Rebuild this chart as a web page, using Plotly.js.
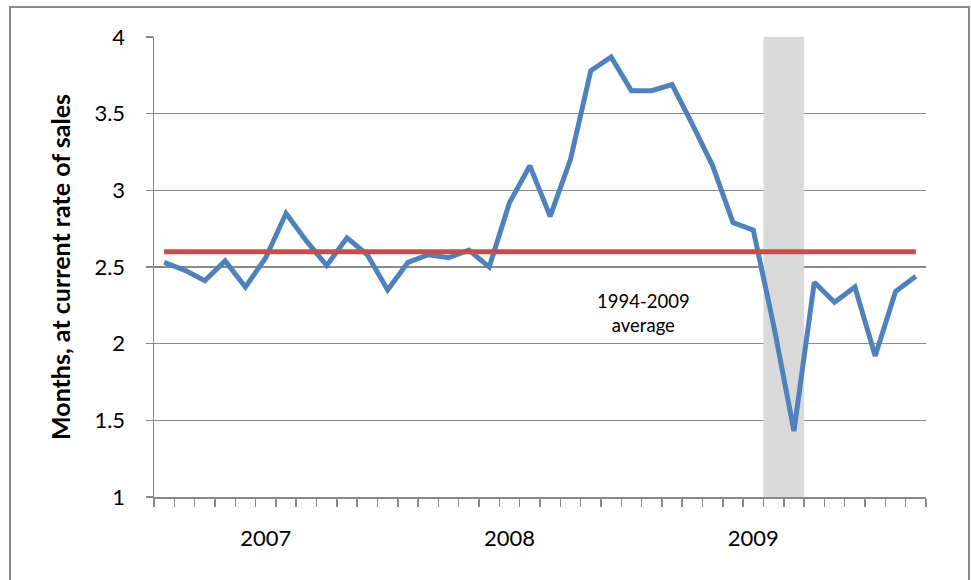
<!DOCTYPE html>
<html>
<head>
<meta charset="utf-8">
<script src="https://cdn.plot.ly/plotly-3.0.1.min.js"></script>
<style>
  html, body { margin: 0; padding: 0; background: #ffffff; }
  #chart { width: 971px; height: 580px; }
</style>
</head>
<body>
<div id="chart"></div>
<script>
// Monthly values (category index 0..37), months of supply at current rate of sales
var monthsSupply = [
  2.53, 2.48, 2.41, 2.54, 2.37, 2.56, 2.85, 2.67, 2.51, 2.69,
  2.58, 2.35, 2.53, 2.58, 2.56, 2.61, 2.50, 2.92, 3.16, 2.83,
  3.20, 3.78, 3.87, 3.65, 3.65, 3.69, 3.43, 3.16, 2.79, 2.74,
  2.12, 1.43, 2.40, 2.27, 2.37, 1.92, 2.34, 2.44
];
// 1994-2009 average level
var averageValue = 2.6;
// Year labels and the category index where each is shown
var yearLabels = ["2007", "2008", "2009"];
var yearLabelIndex = [5, 17, 29];
// Shaded categories (recession band)
var shadedIndex = [30, 31];
var averageLabel = "1994-2009<br>average";
var yTitle = "Months, at current rate of sales";

var n = monthsSupply.length;
var idx = monthsSupply.map(function (_, i) { return i; });

var grey = "#898989";
var font = "Lato, 'Open Sans', sans-serif";

var traces = [
  {
    x: idx, y: monthsSupply, type: "scatter", mode: "lines",
    line: { color: "#4F81BD", width: 5 },
    hoverinfo: "skip", showlegend: false
  },
  {
    x: [idx[0], idx[n - 1]], y: [averageValue, averageValue],
    type: "scatter", mode: "lines",
    line: { color: "#C0504D", width: 5 },
    hoverinfo: "skip", showlegend: false
  }
];

var layout = {
  width: 971, height: 580,
  margin: { l: 154, r: 45, t: 37, b: 83 },
  paper_bgcolor: "#ffffff", plot_bgcolor: "#ffffff",
  font: { family: font, color: "#000000", size: 22 },
  showlegend: false,
  xaxis: {
    range: [-0.5, n - 0.5],
    tickmode: "array", tickvals: yearLabelIndex, ticktext: yearLabels,
    ticks: "", showgrid: false, zeroline: false,
    showline: true, linecolor: grey, linewidth: 2,
    ticklabelstandoff: 21,
    tickfont: { family: font, size: 22, color: "#000000" },
    minor: { tickmode: "linear", tick0: -0.5, dtick: 1, ticks: "outside", ticklen: 8, tickwidth: 1.5, tickcolor: grey, showgrid: false },
    fixedrange: true
  },
  yaxis: {
    range: [1, 4], tickmode: "linear", tick0: 1, dtick: 0.5,
    ticks: "outside", ticklen: 7, tickwidth: 1.5, tickcolor: grey,
    showgrid: true, gridcolor: grey, gridwidth: 1.5,
    showline: true, linecolor: grey, linewidth: 1.5, zeroline: false,
    ticklabelstandoff: 16,
    tickfont: { family: font, size: 22, color: "#000000" },
    title: { text: yTitle, font: { family: font, size: 25, color: "#000000", weight: "bold" }, standoff: 16 },
    fixedrange: true
  },
  shapes: [
    {
      type: "rect", layer: "between", xref: "x", yref: "y",
      x0: shadedIndex[0] - 0.5, x1: shadedIndex[shadedIndex.length - 1] + 0.5,
      y0: 1, y1: 4, fillcolor: "#D9D9D9", line: { width: 0 }
    },
    {
      type: "rect", xref: "paper", yref: "paper",
      x0: -0.1865, x1: 1.0557, y0: -0.25, y1: 1.0652,
      line: { color: grey, width: 2 }, fillcolor: "rgba(0,0,0,0)"
    }
  ],
  annotations: [
    {
      x: 23.6, y: 2.2, xref: "x", yref: "y", text: averageLabel, showarrow: false,
      font: { family: font, size: 18.5, color: "#000000" }, align: "center"
    }
  ]
};

Plotly.newPlot("chart", traces, layout, { displayModeBar: false, staticPlot: true });
</script>
</body>
</html>
